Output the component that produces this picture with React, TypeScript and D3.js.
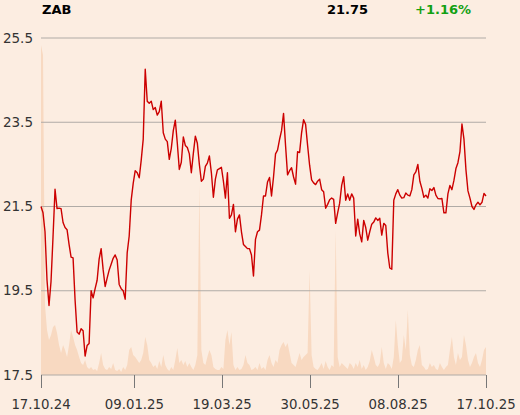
import React from "react";
import * as d3 from "d3";

const ticker = "ZAB";
const lastPrice = "21.75";
const change = "+1.16%";

const yTicks = [17.5, 19.5, 21.5, 23.5, 25.5];
const xTickLabels = ["17.10.24", "09.01.25", "19.03.25", "30.05.25", "08.08.25", "17.10.25"];
const xTickIndex = [0, 46.6, 90.4, 134.3, 178.2, 222];

const prices = [
  21.5, 21.35, 20.9, 19.75, 19.15, 19.72, 20.78, 21.91, 21.45, 21.46,
  21.45, 21.12, 21.0, 20.95, 20.6, 20.3, 20.28, 19.28, 18.52, 18.47,
  18.6, 18.55, 17.95, 18.2, 18.25, 19.5, 19.33, 19.55, 19.75, 20.25,
  20.5, 20.0, 19.6, 19.8, 19.99, 20.13, 20.27, 20.35, 20.23, 19.65,
  19.55, 19.5, 19.3, 20.4, 20.8, 21.65, 22.05, 22.35, 22.3, 22.18,
  22.6, 23.1, 24.76, 24.0, 23.95, 24.0, 23.8, 23.85, 23.67, 23.75,
  24.0, 23.25, 23.1, 23.04, 22.62, 22.88, 23.3, 23.55, 23.0, 22.38,
  22.55, 23.15, 22.95, 22.9, 22.75, 22.3, 22.76, 23.17, 23.0, 22.5,
  22.1, 22.15, 22.45, 22.53, 22.7, 22.3, 21.72, 22.15, 22.37, 22.4,
  22.43, 22.1, 21.7, 22.3, 21.22, 21.3, 21.55, 20.9, 21.2, 21.3,
  20.9, 20.6, 20.55, 20.5, 20.5, 20.35, 19.85, 20.72, 20.9, 20.94,
  21.3, 21.75, 21.75, 22.08, 22.19, 21.75, 22.2, 22.75, 22.84, 23.09,
  23.3, 23.71, 22.95, 22.25, 22.35, 22.42, 22.2, 22.03, 22.8, 22.78,
  23.25, 23.56, 23.45, 22.95, 22.48, 22.13, 22.06, 22.02, 22.1, 22.15,
  21.9, 21.85, 21.46, 21.55, 21.66, 21.7, 21.67, 21.1, 21.35, 21.58,
  22.0, 22.21, 21.65, 21.8, 21.65, 21.8, 21.7, 20.8, 21.2, 20.85,
  20.66, 21.17, 21.0, 20.7, 20.9, 21.08, 21.13, 21.23, 21.17, 21.22,
  20.82, 21.1, 21.05, 20.4, 20.04, 20.01, 21.65, 21.8, 21.9, 21.77,
  21.7, 21.71, 21.82, 21.77, 21.75, 21.9, 22.25, 22.32, 22.5, 22.1,
  21.93, 21.72, 21.77, 21.7, 21.92, 21.88, 21.95, 21.77, 21.69, 21.68,
  21.69, 21.35, 21.35, 21.8, 22.0, 21.9, 22.12, 22.4, 22.54, 22.8,
  23.46, 23.1, 22.37, 21.87, 21.7, 21.5, 21.43, 21.54, 21.6, 21.54,
  21.6, 21.81, 21.75,
];

const volumes = [
  330, 320, 70, 45, 35, 40, 48, 50, 42, 30,
  22, 30, 25, 18, 30, 45, 38, 30, 25, 18,
  12, 10, 15, 8, 6, 8, 5, 6, 4, 12,
  22, 10, 6, 5, 8, 6, 12, 5, 4, 6,
  3, 8, 5, 10, 25, 28, 20, 18, 15, 12,
  15, 22, 38, 30, 15, 12, 8, 10, 6, 14,
  8, 20, 10, 6, 4, 8, 5, 15, 27, 12,
  15, 10, 14, 8, 12, 8, 5, 10, 20, 190,
  25, 12, 10, 18, 25, 20, 8, 6, 5, 5,
  8, 6, 35, 45, 30, 43, 10, 5, 8, 5,
  6, 10, 20, 12, 10, 5, 6, 8, 5, 12,
  6, 8, 5, 15, 20, 12, 8, 15, 12, 25,
  30, 33, 28, 32, 22, 12, 10, 8, 15, 22,
  15, 18, 20, 22, 105, 20, 8, 6, 5, 8,
  12, 6, 14, 8, 5, 10, 8, 145, 18, 8,
  12, 10, 8, 6, 12, 10, 6, 12, 8, 15,
  6, 10, 5, 8, 14, 25, 18, 10, 8, 12,
  28, 12, 6, 12, 10, 6, 18, 55, 30, 12,
  15, 40, 25, 65, 20, 10, 8, 15, 25, 30,
  10, 8, 5, 6, 12, 8, 10, 6, 5, 12,
  8, 5, 8, 10, 25, 38, 18, 10, 22, 15,
  18, 40, 30, 15, 8, 12, 18, 22, 12, 8,
  15, 25, 28,
];

export default function App() {
  const W = 520;
  const H = 415;
  const left = 41;
  const right = 486;
  const top = 38;
  const bottom = 375;

  const x = d3.scaleLinear().domain([0, prices.length - 1]).range([left, right]);
  const y = d3.scaleLinear().domain([17.5, 25.5]).range([bottom, top]);
  const yv = d3.scaleLinear().domain([0, 333]).range([bottom, 42]);

  const line = d3
    .line<number>()
    .x((_, i) => x(i))
    .y((d) => y(d));
  const area = d3
    .area<number>()
    .x((_, i) => x(i))
    .y0(bottom)
    .y1((d) => yv(d));

  const font = "DejaVu Sans, sans-serif";

  return (
    <svg
      width={W}
      height={H}
      style={{ position: "absolute", left: 0, top: 0, background: "#fcede1" }}
    >
      <rect x={0} y={0} width={W} height={H} fill="#fcede1" />
      <path d={area(volumes) || ""} fill="#f8d9c1" />
      {yTicks.map((t) => (
        <g key={t}>
          <line x1={left} x2={right} y1={y(t)} y2={y(t)} stroke="#b0aba6" strokeWidth={1} />
          <text
            x={33}
            y={y(t)}
            dy="0.35em"
            textAnchor="end"
            fontFamily={font}
            fontSize={13.5}
            fill="#333"
          >
            {t.toFixed(1)}
          </text>
        </g>
      ))}
      {xTickIndex.map((ti, k) => (
        <g key={k}>
          <line
            x1={Math.round(x(ti)) + 0.5}
            x2={Math.round(x(ti)) + 0.5}
            y1={bottom}
            y2={bottom + 13}
            stroke="#777"
            strokeWidth={1}
          />
          <text
            x={x(ti)}
            y={409}
            textAnchor="middle"
            fontFamily={font}
            fontSize={13.3}
            fill="#333"
          >
            {xTickLabels[k]}
          </text>
        </g>
      ))}
      <path d={line(prices) || ""} fill="none" stroke="#cc0000" strokeWidth={1.4} strokeLinejoin="round" />
      <text x={42} y={14} fontFamily={font} fontWeight="bold" fontSize={13} fill="#000">
        {ticker}
      </text>
      <text x={368} y={14} textAnchor="end" fontFamily={font} fontWeight="bold" fontSize={13} fill="#000">
        {lastPrice}
      </text>
      <text x={471} y={14} textAnchor="end" fontFamily={font} fontWeight="bold" fontSize={13} fill="#12a012">
        {change}
      </text>
    </svg>
  );
}
